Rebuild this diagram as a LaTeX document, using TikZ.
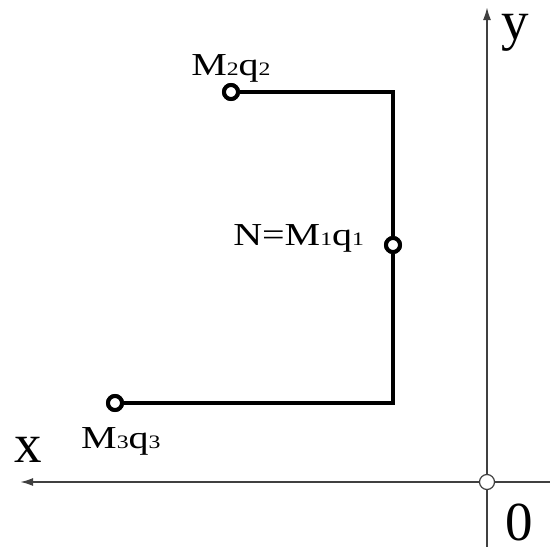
\documentclass[tikz,border=0pt]{standalone}
\usepackage{fontspec}
\setmainfont{Liberation Serif}
\usetikzlibrary{arrows.meta}
\newcommand{\sbd}[1]{{\fontsize{19}{19}\selectfont #1}}
\tikzset{
  axisline/.style={line width=2pt, draw=black!75},
  axisarrow/.style={-{Latex[length=13pt,width=8pt]}},
  pathline/.style={line width=4.5pt, line join=miter},
  ptcirc/.style={circle, draw, line width=4pt, fill=white, minimum size=14pt, inner sep=0pt},
  origcirc/.style={circle, draw=black!75, line width=1.2pt, fill=white, minimum size=15pt, inner sep=0pt},
  ptlabel/.style={anchor=base west, inner sep=0pt, font=\fontsize{32}{32}\selectfont, xscale=1.25},
  axlabel/.style={anchor=base west, inner sep=0pt, font=\fontsize{55}{55}\selectfont, text height=37pt, text depth=0pt}
}
\begin{document}
\begin{tikzpicture}[x=1pt,y=-1pt]
\useasboundingbox (0,0) rectangle (550,547);
\fill[white] (0,0) rectangle (550,547);
% axes
\coordinate (ybot) at (487,547);
\coordinate (ytop) at (487,7);
\coordinate (xright) at (550,482);
\coordinate (xleft) at (20,482);
\draw[axisline, axisarrow] (ybot) -- (ytop);
\draw[axisline, axisarrow] (xright) -- (xleft);
\node[origcirc] (O) at (487,482) {};
% broken line
\node[ptcirc] (M2) at (231,92) {};
\node[ptcirc] (N) at (393,245) {};
\node[ptcirc] (M3) at (115,403) {};
\coordinate (c1) at (393,92);
\coordinate (c2) at (393,403);
\draw[pathline] (M2) -- (c1) -- (N) -- (c2) -- (M3);
% redraw circles on top
\node[ptcirc] at (231,92) {};
\node[ptcirc] at (393,245) {};
\node[ptcirc] at (115,403) {};
% labels
\node[ptlabel] (lM2) at (191,75) {M\sbd{2}q\sbd{2}};
\node[ptlabel] (lN) at (233,245) {N=M\sbd{1}q\sbd{1}};
\node[ptlabel] (lM3) at (81,448) {M\sbd{3}q\sbd{3}};
\node[axlabel] (lx) at (14,462) {x};
\node[axlabel] (ly) at (501,39) {y};
\node[axlabel] (l0) at (505,540) {0};
\end{tikzpicture}
\end{document}
